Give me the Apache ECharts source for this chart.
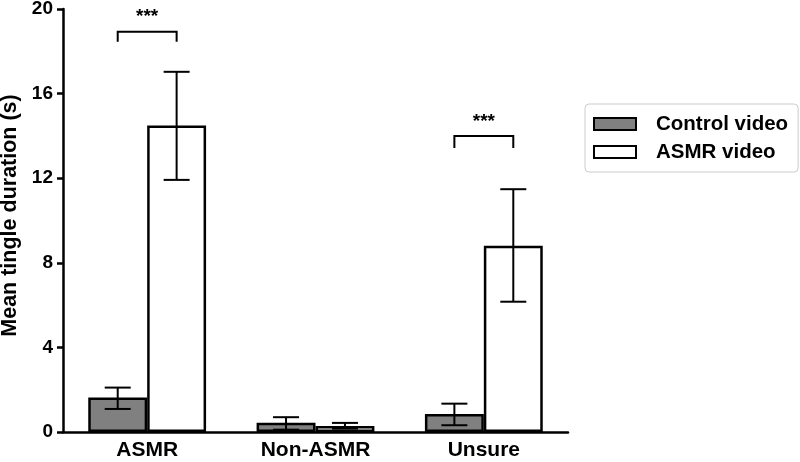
<!DOCTYPE html>
<html>
<head>
<meta charset="utf-8">
<script src="https://cdn.jsdelivr.net/npm/echarts@6/dist/echarts.min.js"></script>
<style>html,body{margin:0;padding:0;background:#fff}#c{width:800px;height:462px}</style>
</head>
<body>
<div id="c"></div>
<script>
var categories = ['ASMR', 'Non-ASMR', 'Unsure'];
var yTicks = [0, 4, 8, 12, 16, 20];
var controlMean = [1.63, 0.44, 0.85];
var controlLow = [1.09, 0.11, 0.32];
var controlHigh = [2.10, 0.70, 1.34];
var asmrMean = [14.49, 0.28, 8.81];
var asmrLow = [11.92, 0.16, 6.16];
var asmrHigh = [17.03, 0.43, 11.48];
// significance brackets: category index, top y, bottom y, label
var bracketCat = [0, 2];
var bracketTop = [18.93, 14.0];
var bracketBottom = [18.45, 13.43];
var bracketLabel = ['***', '***'];

var FONT = '"Liberation Sans", Arial, sans-serif';
var BAR_FRAC = 0.35;

var errData = [];
for (var i = 0; i < categories.length; i++) {
  errData.push([i, controlLow[i], controlHigh[i], 0]);
  errData.push([i, asmrLow[i], asmrHigh[i], 1]);
}
var brData = [];
for (var j = 0; j < bracketCat.length; j++) {
  brData.push([bracketCat[j], bracketTop[j], bracketBottom[j], bracketLabel[j]]);
}

var chart = echarts.init(document.getElementById('c'), null, {renderer: 'canvas'});
chart.setOption({
  animation: false,
  backgroundColor: '#fff',
  textStyle: {fontFamily: FONT},
  grid: {left: 63, right: 232, top: 9, bottom: 30, containLabel: false, outerBoundsMode: 'none'},
  legend: {
    orient: 'vertical',
    left: 585, top: 104,
    padding: [8, 10, 8, 8],
    borderColor: '#cccccc', borderWidth: 1, borderRadius: 4,
    itemWidth: 42, itemHeight: 12, itemGap: 4,
    icon: 'rect',
    data: ['Control video', 'ASMR video'],
    textStyle: {fontFamily: FONT, fontWeight: 'bold', fontSize: 20.5, color: '#000', padding: [0, 0, 0, 15], lineHeight: 24}
  },
  xAxis: {
    type: 'category',
    data: categories,
    axisLine: {lineStyle: {color: '#000', width: 2.5}},
    axisTick: {alignWithLabel: true, length: 8, lineStyle: {color: '#000', width: 2.5}},
    axisLabel: {color: '#000', fontWeight: 'bold', fontSize: 21, margin: 8, fontFamily: FONT},
    splitLine: {show: false}
  },
  yAxis: {
    type: 'value',
    min: yTicks[0], max: yTicks[yTicks.length - 1], interval: 4,
    name: 'Mean tingle duration (s)',
    nameLocation: 'middle', nameGap: 37,
    nameTextStyle: {color: '#000', fontWeight: 'bold', fontSize: 21.5, fontFamily: FONT, padding: [0, 0, 0, 10]},
    axisLine: {show: true, lineStyle: {color: '#000', width: 2.5}},
    axisTick: {show: true, length: 6, lineStyle: {color: '#000', width: 2.5}},
    axisLabel: {color: '#000', fontWeight: 'bold', fontSize: 19, margin: 10, fontFamily: FONT},
    splitLine: {show: false}
  },
  series: [
    {
      name: 'Control video', type: 'bar', data: controlMean,
      barWidth: (BAR_FRAC * 100) + '%', barGap: '0%',
      itemStyle: {color: '#808080', borderColor: '#000', borderWidth: 2.5}
    },
    {
      name: 'ASMR video', type: 'bar', data: asmrMean,
      barWidth: (BAR_FRAC * 100) + '%', barGap: '0%',
      itemStyle: {color: '#ffffff', borderColor: '#000', borderWidth: 2.5}
    },
    {
      name: 'err', type: 'custom', data: errData, z: 5,
      encode: {x: 0, y: [1, 2]},
      renderItem: function (params, api) {
        var cat = api.value(0), lo = api.value(1), hi = api.value(2), s = api.value(3);
        var band = api.size([1, 0])[0];
        var bw = band * BAR_FRAC;
        var off = (s === 0 ? -0.5 : 0.5) * bw;
        var pLo = api.coord([cat, lo]);
        var pHi = api.coord([cat, hi]);
        var x = pLo[0] + off;
        var cap = 13;
        var st = {stroke: '#000', lineWidth: 2};
        return {
          type: 'group',
          children: [
            {type: 'line', shape: {x1: x, y1: pLo[1], x2: x, y2: pHi[1]}, style: st},
            {type: 'line', shape: {x1: x - cap, y1: pLo[1], x2: x + cap, y2: pLo[1]}, style: st},
            {type: 'line', shape: {x1: x - cap, y1: pHi[1], x2: x + cap, y2: pHi[1]}, style: st}
          ]
        };
      }
    },
    {
      name: 'sig', type: 'custom', data: brData, z: 5,
      encode: {x: 0, y: [1, 2]},
      renderItem: function (params, api) {
        var cat = api.value(0), top = api.value(1), bot = api.value(2);
        var label = bracketLabel[params.dataIndex];
        var band = api.size([1, 0])[0];
        var bw = band * BAR_FRAC;
        var pT = api.coord([cat, top]);
        var pB = api.coord([cat, bot]);
        var xl = pT[0] - bw / 2, xr = pT[0] + bw / 2;
        var st = {stroke: '#000', lineWidth: 2, fill: null};
        return {
          type: 'group',
          children: [
            {type: 'polyline', shape: {points: [[xl, pB[1]], [xl, pT[1]], [xr, pT[1]], [xr, pB[1]]]}, style: st},
            {type: 'text', style: {text: label, x: pT[0], y: pT[1] - 5, textAlign: 'center', textVerticalAlign: 'bottom', fill: '#000', font: 'bold 19px ' + FONT}}
          ]
        };
      }
    }
  ]
});
</script>
</body>
</html>
